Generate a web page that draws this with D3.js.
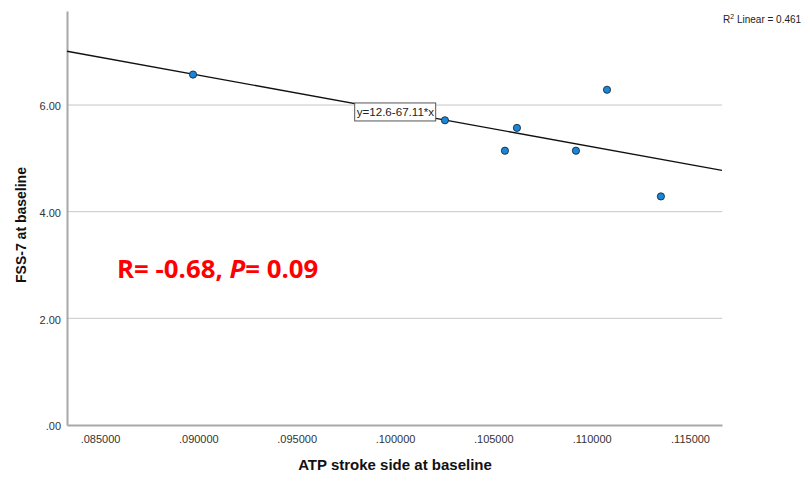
<!DOCTYPE html>
<html>
<head>
<meta charset="utf-8">
<script src="https://cdn.jsdelivr.net/npm/d3@7"></script>
<style>
  body { margin: 0; background: #fff; }
  text { font-family: "Liberation Sans", Arial, sans-serif; }
</style>
</head>
<body>
<div id="chart"></div>
<script>
// data
const atp = [0.08973, 0.10254, 0.10559, 0.10620, 0.10920, 0.11078, 0.11352];
const fss = [6.571, 5.714, 5.143, 5.571, 5.143, 6.286, 4.286];
const xTicks = [0.085, 0.090, 0.095, 0.100, 0.105, 0.110, 0.115];
const yTicks = [0, 2, 4, 6];
const intercept = 12.6;
const slope = -67.11;
const r2 = 0.461;

const width = 805, height = 477;
const margin = {top: 11, right: 83, bottom: 52, left: 67};
const graphWidth = width - margin.left - margin.right;
const graphHeight = height - margin.top - margin.bottom;

const svg = d3.select('#chart')
    .append('svg')
    .attr('width', width)
    .attr('height', height);

const graph = svg.append('g')
    .attr('transform', `translate(${margin.left}, ${margin.top})`);

const x = d3.scaleLinear()
    .domain([0.083322, 0.116627])
    .range([0, graphWidth]);

const y = d3.scaleLinear()
    .domain([0, 7.763])
    .range([graphHeight, 0]);

// grid lines
graph.selectAll('line.grid')
    .data(yTicks.filter(d => d > 0))
    .enter()
    .append('line')
    .attr('class', 'grid')
    .attr('x1', 0)
    .attr('x2', graphWidth)
    .attr('y1', d => y(d))
    .attr('y2', d => y(d))
    .attr('stroke', '#c8c8c8')
    .attr('stroke-width', 1);

// axes
const xAxis = d3.axisBottom(x)
    .tickValues(xTicks)
    .tickSize(0)
    .tickPadding(10)
    .tickFormat(d => d3.format('.6f')(d).replace(/^0/, ''));
const yAxis = d3.axisLeft(y)
    .tickValues(yTicks)
    .tickSize(0)
    .tickPadding(6)
    .tickFormat(d => d3.format('.2f')(d).replace(/^0/, ''));

const xAxisGroup = graph.append('g')
    .attr('transform', `translate(0, ${graphHeight})`)
    .call(xAxis);
const yAxisGroup = graph.append('g')
    .call(yAxis);

[xAxisGroup, yAxisGroup].forEach(g => {
    g.select('.domain').attr('stroke', '#a8a8a8').attr('stroke-width', 2);
    g.selectAll('text')
        .attr('fill', '#333')
        .style('font-size', '11px');
});
yAxisGroup.selectAll('text').attr('dy', '0.45em');

// fit line
const line = d3.line()
    .x(d => x(d))
    .y(d => y(intercept + slope * d));
graph.append('path')
    .datum(x.domain())
    .attr('d', line)
    .attr('fill', 'none')
    .attr('stroke', '#111')
    .attr('stroke-width', 1.3);

// points
graph.selectAll('circle')
    .data(atp.map((d, i) => [d, fss[i]]))
    .enter()
    .append('circle')
    .attr('cx', d => x(d[0]))
    .attr('cy', d => y(d[1]))
    .attr('r', 3.6)
    .attr('fill', '#1a86d8')
    .attr('stroke', '#1b2a3a')
    .attr('stroke-width', 0.9);

// equation label box
const eqX = 0.09795, eqY = 5.87;
const eq = graph.append('g')
    .attr('transform', `translate(${x(eqX)}, ${y(eqY)})`);
eq.append('rect')
    .attr('x', 0)
    .attr('y', -9)
    .attr('width', 81)
    .attr('height', 18)
    .attr('fill', '#fff')
    .attr('stroke', '#555')
    .attr('stroke-width', 1);
eq.append('text')
    .attr('x', 2)
    .attr('y', 4)
    .attr('fill', '#222')
    .style('font-size', '11.6px')
    .text(`y=${intercept}${slope}*x`);

// R2 label
const r2Text = svg.append('text')
    .attr('x', 723)
    .attr('y', 23)
    .attr('fill', '#222')
    .style('font-size', '10px');
r2Text.append('tspan').text('R');
r2Text.append('tspan').attr('dy', -4).style('font-size', '7px').text('2');
r2Text.append('tspan').attr('dy', 4).text(' Linear = ' + r2);

// stats annotation
const stat = svg.append('text')
    .attr('x', 117)
    .attr('y', 278)
    .attr('fill', '#ff0000')
    .style('font-size', '25.8px')
    .style('font-weight', 'bold')
    .style('font-family', '"Open Sans", "Liberation Sans", sans-serif');
stat.append('tspan').text('R= -0.68, ');
stat.append('tspan').style('font-style', 'italic').text('P');
stat.append('tspan').text('= 0.09');

// axis titles
svg.append('text')
    .attr('x', margin.left + 328)
    .attr('y', 470)
    .attr('text-anchor', 'middle')
    .attr('fill', '#111')
    .style('font-size', '15px')
    .style('font-weight', 'bold')
    .text('ATP stroke side at baseline');

svg.append('text')
    .attr('transform', 'translate(26, 225) rotate(-90)')
    .attr('text-anchor', 'middle')
    .attr('fill', '#111')
    .style('font-size', '14px')
    .style('font-weight', 'bold')
    .text('FSS-7 at baseline');
</script>
</body>
</html>
